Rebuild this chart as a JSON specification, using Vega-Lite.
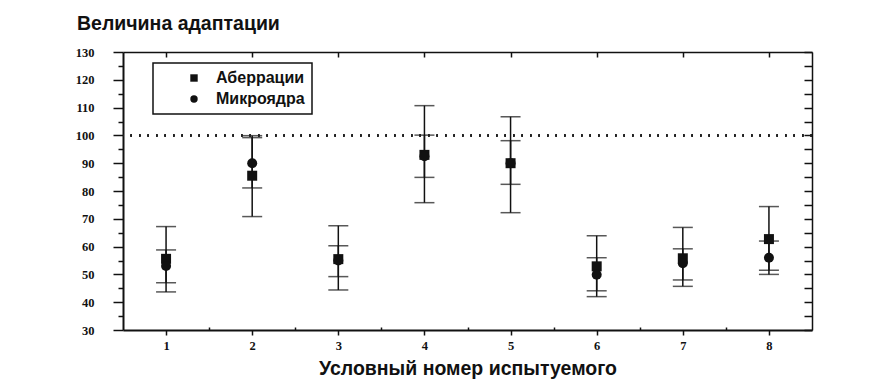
{
  "$schema": "https://vega.github.io/schema/vega-lite/v6.json",
  "width": 689,
  "height": 278,
  "autosize": "none",
  "padding": {"left": 123, "top": 52, "right": 69, "bottom": 56},
  "background": "white",
  "title": {
    "text": "Величина адаптации",
    "anchor": "start",
    "frame": "group",
    "dx": -46,
    "offset": 12,
    "font": "Liberation Sans",
    "fontSize": 19.5,
    "fontWeight": "bold",
    "color": "#111"
  },
  "data": {
    "values": [
      {"subject": 1, "series": "Аберрации", "v": 55.6, "lo": 43.7, "hi": 67.2},
      {"subject": 1, "series": "Микроядра", "v": 53, "lo": 47, "hi": 58.8},
      {"subject": 2, "series": "Аберрации", "v": 85.5, "lo": 70.8, "hi": 99.9},
      {"subject": 2, "series": "Микроядра", "v": 90, "lo": 81.1, "hi": 99.2},
      {"subject": 3, "series": "Аберрации", "v": 55.5, "lo": 44.4, "hi": 67.5},
      {"subject": 3, "series": "Микроядра", "v": 55, "lo": 49.2, "hi": 60.3},
      {"subject": 4, "series": "Аберрации", "v": 93, "lo": 75.8, "hi": 110.7},
      {"subject": 4, "series": "Микроядра", "v": 92.5, "lo": 84.9, "hi": 100.1},
      {"subject": 5, "series": "Аберрации", "v": 90, "lo": 72.2, "hi": 106.7},
      {"subject": 5, "series": "Микроядра", "v": 90, "lo": 82.4, "hi": 98.1},
      {"subject": 6, "series": "Аберрации", "v": 52.9, "lo": 42, "hi": 63.9},
      {"subject": 6, "series": "Микроядра", "v": 49.9, "lo": 44.1, "hi": 56},
      {"subject": 7, "series": "Аберрации", "v": 55.8, "lo": 45.7, "hi": 66.9},
      {"subject": 7, "series": "Микроядра", "v": 54, "lo": 48, "hi": 59.2},
      {"subject": 8, "series": "Аберрации", "v": 62.7, "lo": 50, "hi": 74.4},
      {"subject": 8, "series": "Микроядра", "v": 56, "lo": 51.5, "hi": 62}
    ]
  },
  "config": {
    "view": {"stroke": null},
    "axis": {
      "domainColor": "#111",
      "domainWidth": 2,
      "tickColor": "#111",
      "tickWidth": 1.5,
      "grid": false,
      "labelFont": "Liberation Serif",
      "labelFontWeight": "bold",
      "labelFontSize": 12.5,
      "labelColor": "#111"
    },
    "legend": {"strokeWidth": 1.5}
  },
  "resolve": {"axis": {"x": "independent", "y": "independent"}},
  "layer": [
    {
      "mark": {"type": "rule", "color": "#111", "strokeWidth": 1.5},
      "encoding": {
        "x": {
          "field": "subject", "type": "quantitative",
          "scale": {"domain": [0.5, 8.5], "nice": false, "zero": false},
          "axis": {
            "orient": "bottom",
            "values": [1, 1.5, 2, 2.5, 3, 3.5, 4, 4.5, 5, 5.5, 6, 6.5, 7, 7.5, 8],
            "labelExpr": "datum.value % 1 === 0 ? format(datum.value, 'd') : ''",
            "tickSize": {"condition": {"test": "datum.value % 1 === 0", "value": 5}, "value": -3},
            "labelPadding": 4,
            "title": "Условный номер испытуемого",
            "titleFont": "Liberation Sans",
            "titleFontSize": 19.5,
            "titleFontWeight": "bold",
            "titleColor": "#111",
            "titlePadding": 8
          }
        },
        "y": {
          "field": "lo", "type": "quantitative",
          "scale": {"domain": [30, 130], "nice": false, "zero": false},
          "axis": {
            "orient": "left",
            "values": [30, 35, 40, 45, 50, 55, 60, 65, 70, 75, 80, 85, 90, 95, 100, 105, 110, 115, 120, 125, 130],
            "labelExpr": "datum.value % 10 === 0 ? datum.label : ''",
            "tickSize": {"condition": {"test": "datum.value % 10 === 0", "value": 10}, "value": 5},
            "labelPadding": 19,
            "title": null
          }
        },
        "y2": {"field": "hi"}
      }
    },
    {
      "mark": {"type": "tick", "orient": "horizontal", "color": "#111", "size": 20, "thickness": 1.5},
      "encoding": {
        "x": {
          "field": "subject", "type": "quantitative",
          "axis": {"orient": "top", "values": [1, 2, 3, 4, 5, 6, 7, 8], "labels": false, "tickSize": -5, "domainWidth": 1.5, "title": null}
        },
        "y": {
          "field": "lo", "type": "quantitative",
          "axis": {
            "orient": "right",
            "values": [30, 35, 40, 45, 50, 55, 60, 65, 70, 75, 80, 85, 90, 95, 100, 105, 110, 115, 120, 125, 130],
            "labels": false, "tickSize": -8, "domainWidth": 1.5, "title": null
          }
        }
      }
    },
    {
      "mark": {"type": "tick", "orient": "horizontal", "color": "#111", "size": 20, "thickness": 1.5},
      "encoding": {
        "x": {"field": "subject", "type": "quantitative", "axis": null},
        "y": {"field": "hi", "type": "quantitative", "axis": null}
      }
    },
    {
      "mark": {"type": "rule", "color": "#222", "strokeWidth": 1.5, "strokeDash": [1.5, 7]},
      "encoding": {
        "y": {"datum": 100, "type": "quantitative", "axis": null}
      }
    },
    {
      "mark": {"type": "point", "filled": true, "color": "#111", "opacity": 1, "size": 100},
      "encoding": {
        "x": {"field": "subject", "type": "quantitative", "axis": null},
        "y": {"field": "v", "type": "quantitative", "axis": null},
        "shape": {
          "field": "series", "type": "nominal",
          "scale": {"domain": ["Аберрации", "Микроядра"], "range": ["square", "circle"]},
          "legend": {
            "orient": "none",
            "legendX": 30,
            "legendY": 11,
            "title": null,
            "strokeColor": "#111",
            "fillColor": "white",
            "padding": 7,
            "symbolOffset": 26,
            "symbolSize": 55,
            "symbolFillColor": "#111",
            "symbolStrokeColor": "#111",
            "labelFont": "Liberation Sans",
            "labelFontSize": 16,
            "labelFontWeight": "bold",
            "labelColor": "#111",
            "labelOffset": 14,
            "rowPadding": 5
          }
        }
      }
    }
  ]
}
